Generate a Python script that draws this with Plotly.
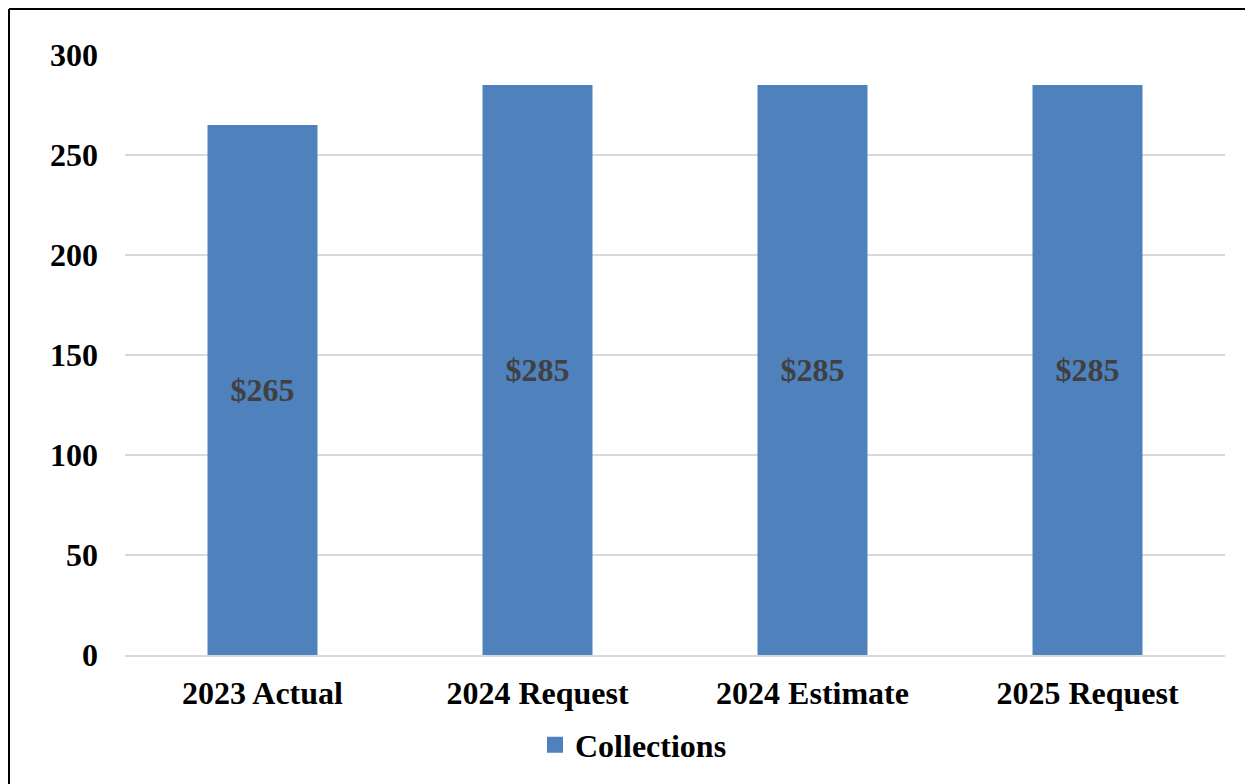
import plotly.graph_objects as go

categories = ["2023 Actual", "2024 Request", "2024 Estimate", "2025 Request"]
values = [265, 285, 285, 285]
labels = ["$265", "$285", "$285", "$285"]
series_name = "Collections"
y_ticks = [0, 50, 100, 150, 200, 250, 300]

# the page adds an 8px body margin, so figure pixel = screen pixel - 8
W, H = 1253, 784
ML, MR, MT, MB = 117, 36, 47, 137
PW, PH = W - ML - MR, H - MT - MB

def px_x(px):
    return (px - ML) / PW

def px_y(py):
    return (H - MB - py) / PH

FONT = "Liberation Serif"
BAR_COLOR = "#4F81BD"
FS = 32

fig = go.Figure()
fig.add_trace(go.Bar(
    x=categories, y=values, name=series_name,
    marker=dict(color=BAR_COLOR, line=dict(width=0)),
    width=0.4,
    text=labels, textposition="inside", insidetextanchor="middle",
    textangle=0,
    textfont=dict(family=FONT, size=FS, color="#404040", weight="bold"),
    showlegend=False,
))
# legend entry with a larger square marker
fig.add_trace(go.Scatter(
    x=[None], y=[None], mode="markers", name=series_name,
    marker=dict(symbol="square", size=16, color=BAR_COLOR),
    showlegend=True,
))

fig.update_layout(
    width=W, height=H,
    margin=dict(l=ML, r=MR, t=MT, b=MB),
    paper_bgcolor="white", plot_bgcolor="white",
    font=dict(family=FONT, size=FS, color="black", weight="bold"),
    showlegend=True,
    legend=dict(orientation="h", x=px_x(527), xanchor="left", y=px_y(737), yanchor="middle",
                font=dict(family=FONT, size=FS, color="black", weight="bold"),
                itemwidth=30, tracegroupgap=0),
    xaxis=dict(showgrid=False, showline=True, linecolor="#D9D9D9", linewidth=2,
               ticks="", tickfont=dict(family=FONT, size=FS, color="black", weight="bold"),
               ticklabelstandoff=9),
    yaxis=dict(range=[0, 300], tickvals=y_ticks, showgrid=True, gridcolor="#D9D9D9",
               gridwidth=2, zeroline=False, showline=False, ticks="",
               tickfont=dict(family=FONT, size=FS, color="black", weight="bold"),
               ticklabelstandoff=26),
)

# outer border (left and top edges visible in the reference)
fig.add_shape(type="line", xref="paper", yref="paper",
              x0=px_x(1), x1=px_x(1), y0=px_y(1), y1=px_y(H + 5),
              line=dict(color="black", width=2))
fig.add_shape(type="line", xref="paper", yref="paper",
              x0=px_x(1), x1=px_x(W + 5), y0=px_y(1), y1=px_y(1),
              line=dict(color="black", width=2))

fig.write_html("out.html")
